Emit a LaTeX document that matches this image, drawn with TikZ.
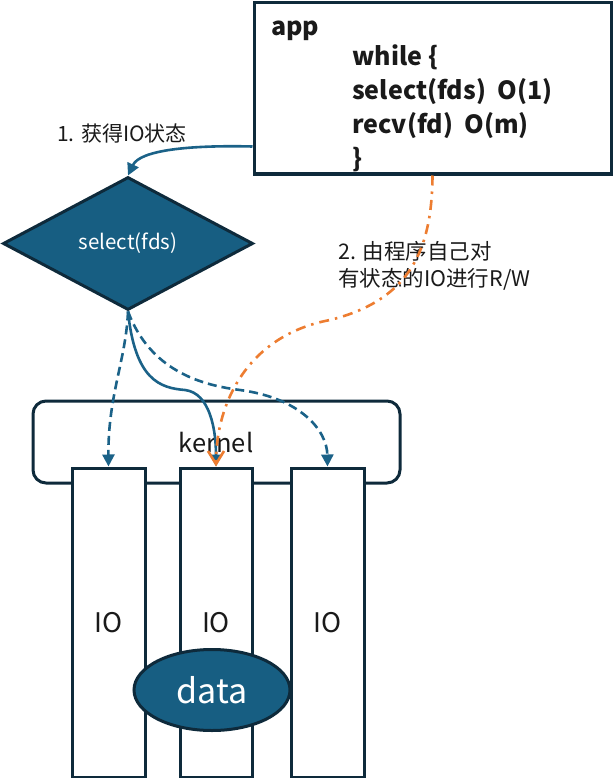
\documentclass[tikz,border=0pt]{standalone}
\usepackage{fontspec}
\setmainfont{Noto Sans CJK SC}
\usetikzlibrary{shapes.geometric,arrows.meta,calc}
\definecolor{fillblue}{HTML}{175E82}
\definecolor{lineblue}{HTML}{1B6288}
\definecolor{bordercol}{HTML}{0E2A3B}
\definecolor{orng}{HTML}{ED7D31}
\definecolor{txt}{HTML}{1A1A1A}
\begin{document}
\begin{tikzpicture}[x=1pt,y=-1pt,
  boxstyle/.style={draw=bordercol,line width=3pt,fill=white,inner sep=0pt},
  iobox/.style={boxstyle,minimum width=73pt,minimum height=309pt,font=\fontsize{27}{30}\selectfont,text=txt},
  blueflow/.style={draw=lineblue,line width=2.6pt,-{Triangle[length=12pt,width=12pt]}},
  bluedash/.style={blueflow,dash pattern=on 9pt off 5pt},
  orangeflow/.style={draw=orng,line width=2.6pt,dash pattern=on 10pt off 6pt on 2.5pt off 6pt,-{Straight Barb[length=13pt,width=16pt,line width=2.6pt]}},
  lbl/.style={text=txt,inner sep=0pt}
]
\useasboundingbox (0,0) rectangle (613,778);

% app box
\node[boxstyle,minimum width=357pt,minimum height=171pt] (app) at (432.5,88.5) {};
\node[lbl,anchor=west,font=\bfseries\fontsize{25}{28}\selectfont] (apptitle) at (271,31) {app};
\node[lbl,anchor=west,align=left,font=\bfseries\fontsize{25}{34}\selectfont] (code) at (352,108)
  {while \{\\select(fds)\ \ O(1)\\recv(fd)\ \ O(m)\\\}};

% kernel
\node[boxstyle,rounded corners=13pt,minimum width=367pt,minimum height=82pt] (kernel) at (216.5,442) {};
\node[lbl,font=\fontsize{25.5}{28}\selectfont] (kerneltext) at (216,443) {kernel};

% IO boxes
\node[iobox] (io1) at (108.5,622.5) {IO};
\node[iobox,minimum width=72pt] (io2) at (216,622.5) {IO};
\node[iobox] (io3) at (327.5,622.5) {IO};

% data
\node[ellipse,draw=bordercol,line width=3pt,fill=fillblue,minimum width=156pt,minimum height=81pt,inner sep=0pt,text=white,font=\fontsize{34}{38}\selectfont] (data) at (212,690) {data};

% diamond
\node[diamond,draw=bordercol,line width=3pt,fill=fillblue,minimum width=250pt,minimum height=133pt,inner sep=0pt,text=white,font=\fontsize{20.5}{24}\selectfont] (sel) at (128,243.5) {select(fds)};

% labels
\node[lbl,font=\fontsize{21}{24}\selectfont] (lab1) at (122,133) {1. 获得IO状态};
\node[lbl,anchor=west,align=left,font=\fontsize{21.5}{27}\selectfont] (lab2) at (338,265.5) {2. 由程序自己对\\有状态的IO进行R/W};

% connectors
\coordinate (appout) at ($(app.south west)+(0,-29)$);
\draw[blueflow] (appout) .. controls (190,145) and (140,150) .. (sel.north);
\draw[bluedash] (sel.south) .. controls (126,360) and (108,395) .. (io1.north);
\draw[blueflow] (sel.south) .. controls (135,380) and (160,388) .. (185,390) .. controls (210,393) and (216,430) .. (io2.north);
\draw[bluedash] (sel.south) .. controls (150,370) and (200,385) .. (240,390) .. controls (300,398) and (327,430) .. (io3.north);
\draw[orangeflow] (app.south) .. controls (432,250) and (410,300) .. (330,320) .. controls (250,335) and (216,400) .. (io2.north);
\end{tikzpicture}
\end{document}
